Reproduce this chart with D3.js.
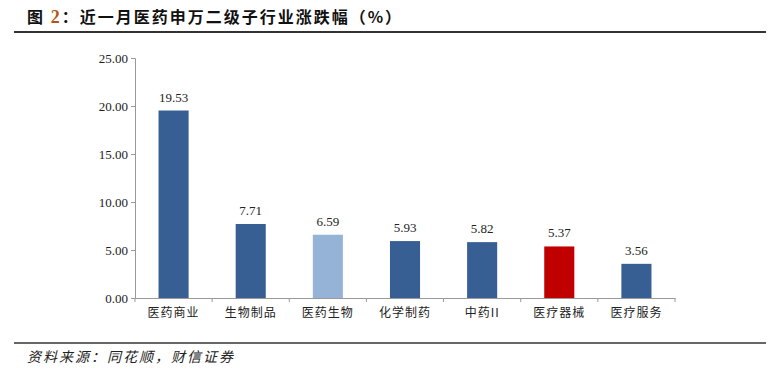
<!DOCTYPE html>
<html>
<head>
<meta charset="utf-8">
<script src="https://cdn.jsdelivr.net/npm/d3@7/dist/d3.min.js"></script>
<style>
  body { margin: 0; background: #fff; }
</style>
</head>
<body>
<script>
  // data
  const categories = ['医药商业', '生物制品', '医药生物', '化学制药', '中药II', '医疗器械', '医疗服务'];
  const values = [19.53, 7.71, 6.59, 5.93, 5.82, 5.37, 3.56];
  const yTicks = [0, 5, 10, 15, 20, 25];

  const colors = { main: '#375F93', bench: '#95B3D7', hi: '#C00000' };
  const barColor = d => d.name === '医药生物' ? colors.bench : (d.name === '医疗器械' ? colors.hi : colors.main);

  const data = categories.map((c, i) => ({ name: c, value: values[i] }));

  const W = 782, H = 377;
  const plot = { left: 135, right: 675, top: 58, bottom: 298 };

  const svg = d3.select('body').append('svg')
    .attr('width', W).attr('height', H);

  // title
  const title = svg.append('text')
    .attr('x', 27).attr('y', 23)
    .style('font-family', '"Noto Sans CJK SC"')
    .style('font-weight', 'bold')
    .style('font-size', '16px')
    .style('letter-spacing', '2px')
    .attr('fill', '#111');
  title.append('tspan').text('图 ');
  title.append('tspan').attr('fill', '#B4560F').style('font-family', '"Liberation Serif"').style('font-size', '18px').text('2');
  title.append('tspan').text('：近一月医药申万二级子行业涨跌幅（%）');

  svg.append('line')
    .attr('x1', 14).attr('x2', 766).attr('y1', 32).attr('y2', 32)
    .attr('stroke', '#333').attr('stroke-width', 2);

  // scales
  const x = d3.scaleBand()
    .domain(categories)
    .range([plot.left, plot.right]);

  const y = d3.scaleLinear()
    .domain([0, 25])
    .range([plot.bottom, plot.top]);

  const barW = x.bandwidth() * 0.39;

  // y axis
  const yAxis = d3.axisLeft(y)
    .tickValues(yTicks)
    .tickFormat(d3.format('.2f'))
    .tickSize(4)
    .tickPadding(3);
  const gy = svg.append('g')
    .attr('transform', `translate(${plot.left},0)`)
    .call(yAxis);
  gy.select('.domain').attr('stroke', '#999');
  gy.selectAll('.tick line').attr('stroke', '#999');
  gy.selectAll('text')
    .style('font-family', '"Liberation Serif"')
    .style('font-size', '13px')
    .attr('fill', '#222');

  // x axis
  const xAxis = d3.axisBottom(x).tickSize(0).tickPadding(10);
  const gx = svg.append('g')
    .attr('transform', `translate(0,${plot.bottom})`)
    .call(xAxis);
  gx.select('.domain').attr('stroke', '#999');
  gx.selectAll('text')
    .style('font-family', '"Noto Sans CJK SC"')
    .style('font-size', '12px')
    .style('letter-spacing', '1px')
    .attr('fill', '#222');
  // tick marks between categories
  gx.selectAll('.sep')
    .data(categories.concat(['end']))
    .enter().append('line')
    .attr('x1', (d, i) => plot.left + i * x.step())
    .attr('x2', (d, i) => plot.left + i * x.step())
    .attr('y1', 0).attr('y2', 4)
    .attr('stroke', '#999');

  // bars
  svg.selectAll('rect.bar')
    .data(data)
    .enter().append('rect')
    .attr('class', 'bar')
    .attr('x', d => x(d.name) + x.bandwidth() / 2 - barW / 2)
    .attr('width', barW)
    .attr('y', d => y(d.value))
    .attr('height', d => y(0) - y(d.value))
    .attr('fill', barColor);

  // value labels
  svg.selectAll('text.val')
    .data(data)
    .enter().append('text')
    .attr('class', 'val')
    .attr('x', d => x(d.name) + x.bandwidth() / 2)
    .attr('y', d => y(d.value) - 9)
    .attr('text-anchor', 'middle')
    .style('font-family', '"Liberation Serif"')
    .style('font-size', '13px')
    .attr('fill', '#222')
    .text(d => d.value.toFixed(2));

  // footer
  svg.append('line')
    .attr('x1', 14).attr('x2', 766).attr('y1', 343).attr('y2', 343)
    .attr('stroke', '#333').attr('stroke-width', 1.5);

  svg.append('text')
    .attr('x', 27).attr('y', 362)
    .style('font-family', '"Noto Sans CJK SC"')
    .style('font-style', 'italic')
    .style('font-size', '14px')
    .style('letter-spacing', '2px')
    .attr('fill', '#222')
    .text('资料来源：同花顺，财信证券');
</script>
</body>
</html>
